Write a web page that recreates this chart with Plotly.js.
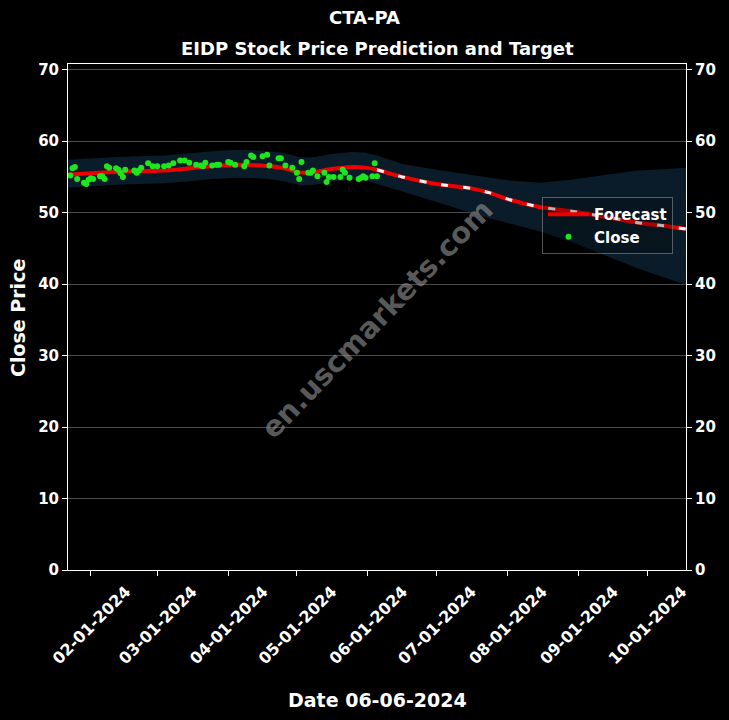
<!DOCTYPE html>
<html>
<head>
<meta charset="utf-8">
<script src="https://cdn.plot.ly/plotly-3.0.1.min.js"></script>
<style>html,body{margin:0;padding:0;background:#000;}#chart{width:729px;height:720px;}</style>
</head>
<body>
<div id="chart"></div>
<script>
// ---- Data ----
const closeDates = [
  '2024-01-23','2024-01-24','2024-01-25','2024-01-26','2024-01-29','2024-01-30','2024-01-31',
  '2024-02-01','2024-02-02','2024-02-05','2024-02-06','2024-02-07','2024-02-08','2024-02-09',
  '2024-02-12','2024-02-13','2024-02-14','2024-02-15','2024-02-16','2024-02-20','2024-02-21',
  '2024-02-22','2024-02-23','2024-02-26','2024-02-28','2024-03-01','2024-03-04','2024-03-06',
  '2024-03-08','2024-03-11','2024-03-13','2024-03-15','2024-03-18','2024-03-20','2024-03-21',
  '2024-03-22','2024-03-25','2024-03-27','2024-03-28','2024-04-01','2024-04-02','2024-04-04',
  '2024-04-08','2024-04-09','2024-04-11','2024-04-12','2024-04-16','2024-04-18','2024-04-19',
  '2024-04-23','2024-04-24','2024-04-26','2024-04-29','2024-05-01','2024-05-02','2024-05-03',
  '2024-05-06','2024-05-07','2024-05-08','2024-05-10','2024-05-13','2024-05-14','2024-05-15',
  '2024-05-17','2024-05-20','2024-05-21','2024-05-22','2024-05-24','2024-05-28','2024-05-29',
  '2024-05-30','2024-05-31','2024-06-03','2024-06-04','2024-06-05'
];
const closeValues = [
  55.2,56.2,56.4,54.7,54.2,54.0,54.6,
  54.8,54.7,55.1,55.1,54.7,56.5,56.3,
  56.2,56.0,55.5,55.0,56.0,55.9,55.6,
  55.9,56.3,56.9,56.5,56.5,56.5,56.6,
  56.9,57.3,57.3,57.0,56.7,56.6,56.5,
  57.0,56.6,56.7,56.7,57.1,57.0,56.7,
  56.5,57.1,58.0,57.8,57.9,58.1,56.6,
  57.6,57.6,56.6,56.3,55.6,54.7,57.1,
  55.6,55.6,55.9,55.1,55.6,54.3,55.0,
  55.0,55.0,56.0,55.6,54.9,54.7,54.9,
  55.1,54.9,55.1,56.9,55.1
];

const fcDates = [
  '2024-01-22','2024-02-01','2024-02-12','2024-02-22','2024-03-04','2024-03-15','2024-03-25',
  '2024-04-05','2024-04-15','2024-04-24','2024-05-03','2024-05-09','2024-05-16','2024-05-25',
  '2024-05-31','2024-06-05','2024-06-16','2024-07-01','2024-07-16','2024-07-24','2024-08-02',
  '2024-08-15','2024-08-29','2024-09-13','2024-09-27','2024-10-10','2024-10-18'
];
const fcValues = [
  55.3,55.5,55.7,55.8,55.9,56.2,56.5,
  56.7,56.6,56.3,55.6,55.7,56.1,56.4,
  56.3,56.0,55.0,54.0,53.4,52.8,51.8,
  50.8,50.2,49.4,48.6,48.1,47.7
];
const fcUpper = [
  57.4,57.6,57.8,57.9,58.0,58.3,58.6,
  58.8,58.7,58.4,57.7,57.8,58.2,58.5,
  58.4,58.0,56.8,56.0,55.3,54.9,54.5,
  54.2,54.6,55.3,55.9,56.1,56.3
];
const fcLower = [
  53.5,53.7,53.9,54.0,54.1,54.4,54.7,
  54.9,54.8,54.5,53.8,53.9,54.3,54.6,
  54.5,54.0,53.0,51.5,50.0,49.2,48.5,
  47.4,45.9,44.0,42.2,40.8,39.9
];
const forecastStart = '2024-06-05';
const yTicks = [0,10,20,30,40,50,60,70];
const xTicks = ['2024-02-01','2024-03-01','2024-04-01','2024-05-01','2024-06-01','2024-07-01','2024-08-01','2024-09-01','2024-10-01'];

// ---- Build traces ----
const startIdx = fcDates.indexOf(forecastStart);
const futDates = fcDates.slice(startIdx);
const futValues = fcValues.slice(startIdx);

const FONT = 'DejaVu Sans, sans-serif';
const traces = [
  {x: fcDates, y: fcLower, type: 'scatter', mode: 'lines', line: {width: 0, color: 'rgba(0,0,0,0)'},
   showlegend: false, hoverinfo: 'skip'},
  {x: fcDates, y: fcUpper, type: 'scatter', mode: 'lines', line: {width: 0, color: 'rgba(0,0,0,0)'},
   fill: 'tonexty', fillcolor: '#0a1c29', showlegend: false, hoverinfo: 'skip'},
  {x: fcDates, y: fcValues, type: 'scatter', mode: 'lines', name: 'Forecast',
   line: {color: '#ee0000', width: 4, shape: 'spline', smoothing: 0.6}},
  {x: futDates, y: futValues, type: 'scatter', mode: 'lines', showlegend: false,
   line: {color: '#f2f2f2', width: 3, dash: '7px,15px', shape: 'spline', smoothing: 0.6}},
  {x: closeDates, y: closeValues, type: 'scatter', mode: 'markers', name: 'Close',
   marker: {color: '#1ee61e', size: 6}},
  {x: [fcDates[0]], y: [yTicks[0]], yaxis: 'y2', type: 'scatter', mode: 'markers',
   marker: {opacity: 0}, showlegend: false, hoverinfo: 'skip'}
];

const tickFont = {family: FONT, size: 15, color: '#ffffff', weight: 'bold'};
const layout = {
  width: 729, height: 720,
  paper_bgcolor: '#000000', plot_bgcolor: '#000000',
  margin: {l: 68, r: 43, t: 64, b: 150, pad: 0},
  font: {family: FONT, color: '#ffffff'},
  title: {text: '<b>CTA-PA</b>', x: 0.5, xref: 'container', xanchor: 'center',
          y: 1 - 18/720, yref: 'container', yanchor: 'middle',
          font: {family: FONT, size: 18, color: '#ffffff'}},
  xaxis: {
    type: 'date', range: ['2024-01-22', '2024-10-18'],
    tickvals: xTicks,
    tickformat: '%m-%d-%Y', tickangle: -45,
    tickfont: {family: FONT, size: 16, color: '#ffffff', weight: 'bold'},
    ticklabelshift: 35, ticklabelstandoff: 0,
    ticks: 'outside', ticklen: 5, tickcolor: '#ffffff', tickwidth: 1,
    showline: true, linecolor: '#ffffff', linewidth: 1, mirror: true,
    showgrid: false, zeroline: false
  },
  yaxis: {
    range: [0, 70.8], tickvals: yTicks, tickfont: tickFont,
    ticks: 'outside', ticklen: 5, tickcolor: '#ffffff',
    showline: true, linecolor: '#ffffff', linewidth: 1, mirror: true,
    showgrid: true, gridcolor: '#4a4a4a', gridwidth: 1, zeroline: false
  },
  yaxis2: {
    range: [0, 70.8], tickvals: yTicks, tickfont: tickFont, overlaying: 'y', side: 'right',
    ticks: 'outside', ticklen: 5, tickcolor: '#ffffff',
    showline: false, showgrid: false, zeroline: false
  },
  legend: {
    x: 0.767, y: (570-197)/506, xanchor: 'left', yanchor: 'top',
    traceorder: 'normal', itemwidth: 41,
    bgcolor: 'rgba(0,0,0,0.25)', bordercolor: 'rgba(140,140,140,0.6)', borderwidth: 1,
    font: {family: FONT, size: 15, color: '#ffffff', weight: 'bold'},
    tracegroupgap: 0
  },
  annotations: [
    {text: '<b>EIDP Stock Price Prediction and Target</b>', xref: 'paper', yref: 'paper',
     x: 0.5, y: (570-49)/506, xanchor: 'center', yanchor: 'middle', showarrow: false,
     font: {family: FONT, size: 18, color: '#ffffff'}},
    {text: '<b>Date 06-06-2024</b>', xref: 'paper', yref: 'paper',
     x: 0.5, y: (570-700)/506, xanchor: 'center', yanchor: 'middle', showarrow: false,
     font: {family: FONT, size: 19, color: '#ffffff'}},
    {text: '<b>Close Price</b>', xref: 'paper', yref: 'paper', textangle: -90,
     x: (18-68)/618, y: (570-318)/506, xanchor: 'center', yanchor: 'middle', showarrow: false,
     font: {family: FONT, size: 19, color: '#ffffff'}},
    {text: '<b>en.uscmarkets.com</b>', xref: 'paper', yref: 'paper', textangle: -46,
     x: 0.5, y: 0.496, xanchor: 'center', yanchor: 'middle', showarrow: false,
     font: {family: FONT, size: 29, color: 'rgba(150,150,150,0.6)'}}
  ],
  showlegend: true
};

Plotly.newPlot('chart', traces, layout, {staticPlot: true, displayModeBar: false});
</script>
</body>
</html>
